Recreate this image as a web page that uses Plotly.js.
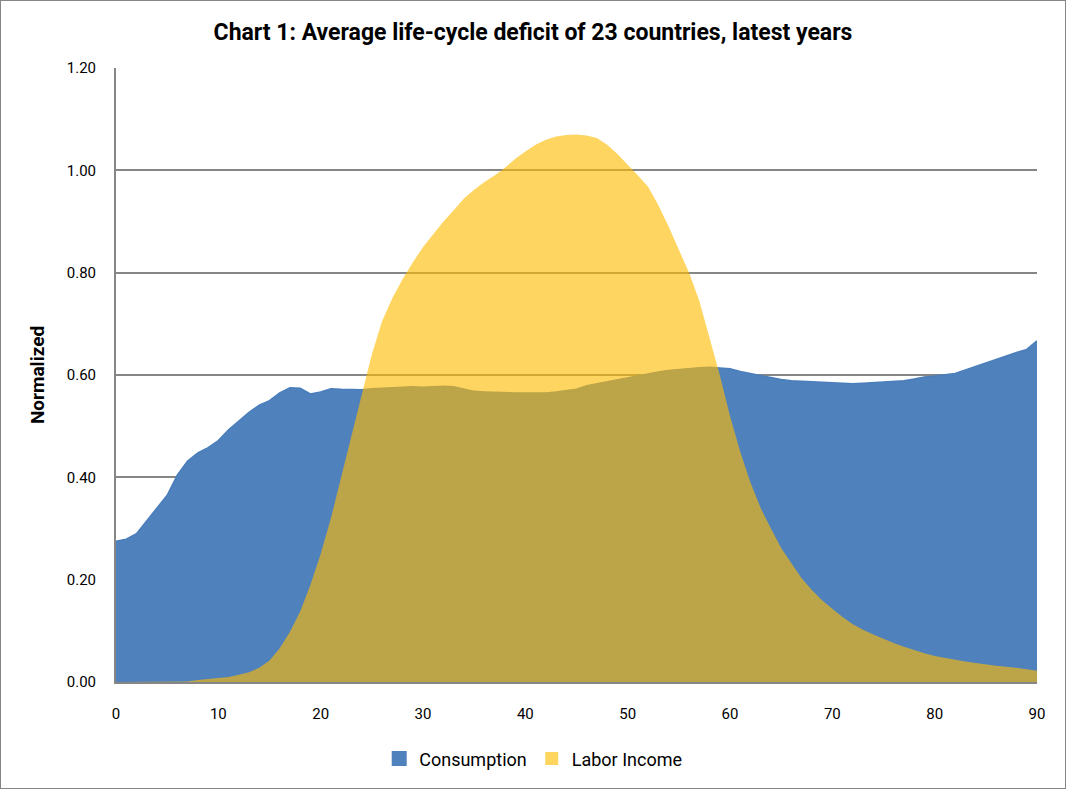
<!DOCTYPE html>
<html>
<head>
<meta charset="utf-8">
<script src="https://cdn.plot.ly/plotly-3.0.1.min.js"></script>
<style>
  html, body { margin: 0; padding: 0; background: #fff; }
  #wrap { position: relative; width: 1066px; height: 789px; }
  #chart { width: 1066px; height: 789px; }
  #frame { position: absolute; left: 0; top: 0; width: 1064px; height: 787px; border: 1px solid #868686; pointer-events: none; }
</style>
</head>
<body>
<div id="wrap"><div id="chart"></div><div id="frame"></div></div>
<script>
const ages = [];
for (let a = 0; a <= 90; a++) ages.push(a);

const consumption = [
  0.275, 0.279, 0.290, 0.315, 0.338, 0.365, 0.405, 0.432, 0.448, 0.458,
  0.472, 0.493, 0.510, 0.527, 0.541, 0.550, 0.565, 0.575, 0.574, 0.563,
  0.567, 0.573, 0.572, 0.571, 0.571, 0.573, 0.574, 0.575, 0.576, 0.577,
  0.576, 0.577, 0.578, 0.577, 0.572, 0.568, 0.567, 0.566, 0.565, 0.565,
  0.565, 0.565, 0.565, 0.567, 0.570, 0.572, 0.579, 0.583, 0.587, 0.590,
  0.594, 0.598, 0.603, 0.606, 0.609, 0.611, 0.613, 0.614, 0.615, 0.614,
  0.612, 0.607, 0.603, 0.599, 0.594, 0.591, 0.589, 0.588, 0.587, 0.586,
  0.585, 0.584, 0.583, 0.584, 0.585, 0.586, 0.587, 0.589, 0.592, 0.596,
  0.598, 0.600, 0.603, 0.610, 0.617, 0.624, 0.630, 0.637, 0.644, 0.650,
  0.667
];

const laborIncome = [
  0.000, 0.000, 0.000, 0.000, 0.000, 0.000, 0.000, 0.001, 0.004, 0.006,
  0.008, 0.010, 0.014, 0.019, 0.028, 0.042, 0.066, 0.098, 0.138, 0.190,
  0.250, 0.320, 0.400, 0.480, 0.560, 0.640, 0.705, 0.750, 0.787, 0.820,
  0.850, 0.875, 0.900, 0.922, 0.945, 0.962, 0.977, 0.990, 1.005, 1.022,
  1.037, 1.050, 1.060, 1.066, 1.069, 1.070, 1.068, 1.063, 1.050, 1.032,
  1.012, 0.990, 0.968, 0.932, 0.890, 0.845, 0.800, 0.745, 0.675, 0.600,
  0.520, 0.450, 0.390, 0.340, 0.300, 0.262, 0.232, 0.203, 0.180, 0.160,
  0.143, 0.127, 0.113, 0.102, 0.093, 0.084, 0.076, 0.069, 0.062, 0.056,
  0.051, 0.047, 0.043, 0.040, 0.037, 0.034, 0.032, 0.030, 0.028, 0.025,
  0.022
];

const seriesNames = ['Consumption', 'Labor Income'];
const xTicks = [0, 10, 20, 30, 40, 50, 60, 70, 80, 90];
const yTicks = [0, 0.2, 0.4, 0.6, 0.8, 1.0, 1.2];

const BLUE = '#4F81BD';
const YELLOW = 'rgba(255,187,0,0.62)';

const traces = [
  {
    x: ages, y: consumption, name: seriesNames[0], type: 'scatter', mode: 'lines',
    fill: 'tozeroy', fillcolor: BLUE, showlegend: false,
    line: { color: '#4A7EBB', width: 1.5 }
  },
  {
    x: ages, y: laborIncome, name: seriesNames[1], type: 'scatter', mode: 'lines',
    fill: 'tozeroy', fillcolor: YELLOW, showlegend: false,
    line: { color: 'rgba(255,187,0,0)', width: 0 }
  },
  // legend keys (square swatches like the original)
  {
    x: [null], y: [null], name: seriesNames[0], type: 'scatter', mode: 'markers',
    marker: { symbol: 'square', size: 15, color: BLUE, line: { width: 0 } }, showlegend: true
  },
  {
    x: [null], y: [null], name: seriesNames[1], type: 'scatter', mode: 'markers',
    marker: { symbol: 'square', size: 13, color: '#FDD55F', line: { width: 0 } }, showlegend: true
  }
];

const layout = {
  width: 1066, height: 789,
  paper_bgcolor: '#ffffff', plot_bgcolor: '#ffffff',
  margin: { l: 116, r: 29, t: 68, b: 105 },
  font: { family: 'Roboto, "Liberation Sans", sans-serif', color: '#000', size: 15 },
  title: {
    text: 'Chart 1: Average life-cycle deficit of 23 countries, latest years',
    font: { family: 'Roboto, "Liberation Sans", sans-serif', size: 23, color: '#000', weight: 'bold' },
    x: 0.5, xanchor: 'center', y: 1 - 32 / 789, yanchor: 'middle', yref: 'container'
  },
  xaxis: {
    range: [0, 90], tickmode: 'array', tickvals: xTicks,
    showgrid: false, zeroline: false,
    showline: true, linecolor: '#868686', linewidth: 2,
    ticks: '', ticklabelstandoff: 17,
    tickfont: { size: 15 }
  },
  yaxis: {
    range: [0, 1.2], tickmode: 'array', tickvals: yTicks, tickformat: '.2f',
    showgrid: true, gridcolor: '#868686', gridwidth: 2, zeroline: false,
    showline: true, linecolor: '#868686', linewidth: 2,
    ticks: '', ticklabelstandoff: 15,
    tickfont: { size: 15 },
    title: { text: 'Normalized', font: { size: 19, weight: 'bold' }, standoff: 17 }
  },
  legend: {
    orientation: 'h', x: 0.453, xanchor: 'center', y: -0.095, yanchor: 'top',
    font: { size: 18 }, traceorder: 'normal', itemwidth: 30
  },
  showlegend: true
};

Plotly.newPlot('chart', traces, layout, { staticPlot: true });
</script>
</body>
</html>
